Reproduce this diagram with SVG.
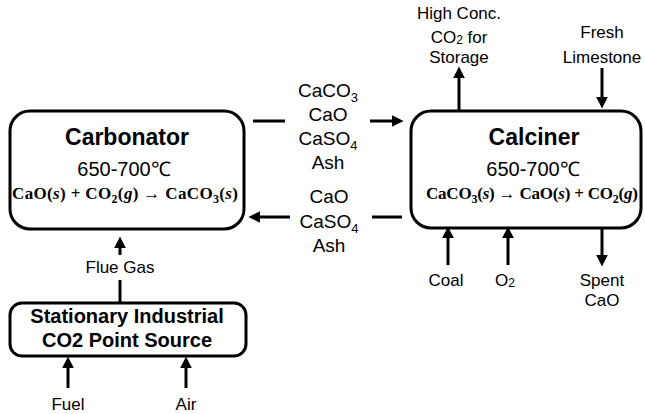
<svg xmlns="http://www.w3.org/2000/svg" width="645" height="414" viewBox="0 0 645 414">
<style>
text{font-family:"Liberation Sans",Arial,sans-serif;fill:#000;text-anchor:middle}
.title{font-size:23px;font-weight:bold}
.temp{font-size:20px}
.eq{font-family:"Liberation Serif","Times New Roman",serif;font-size:17px;font-weight:bold}
.it{font-style:italic}
.lbl{font-size:19px}
.sm{font-size:17px}
.src{font-size:20px;font-weight:bold}
.box{fill:#fff;stroke:#000;stroke-width:3}
.ln{stroke:#000;stroke-width:3;fill:none}
</style>
<defs>
<marker id="ah" markerUnits="userSpaceOnUse" markerWidth="12" markerHeight="12" viewBox="0 0 10 10" refX="2" refY="5" orient="auto">
<path d="M0,0 L10,5 L0,10 z" fill="#000"/>
</marker>
</defs>

<g id="carbonator">
<rect class="box" x="10" y="111" width="234" height="118" rx="20"/>
<text class="title" x="127" y="145">Carbonator</text>
<text class="temp" x="124" y="176">650-700℃</text>
<text class="eq" x="125" y="199" textLength="226" lengthAdjust="spacing">CaO(<tspan class="it">s</tspan>) +  CO<tspan font-size="12" dy="4">2</tspan><tspan dy="-4">(</tspan><tspan class="it">g</tspan>)  →  CaCO<tspan font-size="12" dy="4">3</tspan><tspan dy="-4">(</tspan><tspan class="it">s</tspan>)</text>
</g>

<g id="calciner">
<rect class="box" x="411" y="111" width="230" height="117" rx="20"/>
<text class="title" x="534" y="145">Calciner</text>
<text class="temp" x="533" y="176">650-700℃</text>
<text class="eq" x="532" y="199" textLength="212" lengthAdjust="spacing">CaCO<tspan font-size="12" dy="4">3</tspan><tspan dy="-4">(</tspan><tspan class="it">s</tspan>) → CaO(<tspan class="it">s</tspan>) +  CO<tspan font-size="12" dy="4">2</tspan><tspan dy="-4">(</tspan><tspan class="it">g</tspan>)</text>
</g>

<g id="source">
<rect class="box" x="10" y="303" width="236" height="53" rx="12"/>
<text class="src" x="127" y="323">Stationary Industrial</text>
<text class="src" x="127" y="347">CO2 Point Source</text>
</g>

<g id="connectors">
<!-- carbonator to calciner -->
<line class="ln" x1="253" y1="121" x2="285" y2="121"/>
<line class="ln" x1="370" y1="121" x2="394" y2="121" marker-end="url(#ah)"/>
<!-- calciner to carbonator -->
<line class="ln" x1="402" y1="217" x2="372" y2="217"/>
<line class="ln" x1="290" y1="217" x2="258" y2="217" marker-end="url(#ah)"/>
<!-- flue gas -->
<line class="ln" x1="120" y1="302" x2="120" y2="280"/>
<line class="ln" x1="120" y1="255" x2="120" y2="246" marker-end="url(#ah)"/>
<!-- fuel, air -->
<line class="ln" x1="68" y1="388" x2="68" y2="366" marker-end="url(#ah)"/>
<line class="ln" x1="186" y1="388" x2="186" y2="366" marker-end="url(#ah)"/>
<!-- calciner top -->
<line class="ln" x1="459" y1="110" x2="459" y2="76" marker-end="url(#ah)"/>
<line class="ln" x1="602" y1="68" x2="602" y2="99" marker-end="url(#ah)"/>
<!-- calciner bottom -->
<line class="ln" x1="448" y1="265" x2="448" y2="236" marker-end="url(#ah)"/>
<line class="ln" x1="508" y1="265" x2="508" y2="236" marker-end="url(#ah)"/>
<line class="ln" x1="602" y1="229" x2="602" y2="257" marker-end="url(#ah)"/>
</g>

<g id="labels">
<text class="lbl" x="328" y="97">CaCO<tspan font-size="13" dy="5">3</tspan></text>
<text class="lbl" x="328" y="121">CaO</text>
<text class="lbl" x="328" y="145">CaSO<tspan font-size="13" dy="5">4</tspan></text>
<text class="lbl" x="328" y="169">Ash</text>
<text class="lbl" x="329" y="203">CaO</text>
<text class="lbl" x="329" y="228">CaSO<tspan font-size="13" dy="5">4</tspan></text>
<text class="lbl" x="329" y="252">Ash</text>

<text class="sm" x="459" y="19">High Conc.</text>
<text class="sm" x="459" y="43">CO<tspan font-size="12" dy="1">2</tspan><tspan dy="-1"> for</tspan></text>
<text class="sm" x="459" y="63">Storage</text>
<text class="sm" x="602" y="38">Fresh</text>
<text class="sm" x="602" y="63">Limestone</text>

<text class="sm" x="446" y="286">Coal</text>
<text class="sm" x="505" y="286">O<tspan font-size="12" dy="1">2</tspan></text>
<text class="sm" x="602" y="286">Spent</text>
<text class="sm" x="602" y="306">CaO</text>

<text class="sm" x="120" y="273">Flue Gas</text>
<text class="sm" x="68" y="410">Fuel</text>
<text class="sm" x="186" y="410">Air</text>
</g>
</svg>
